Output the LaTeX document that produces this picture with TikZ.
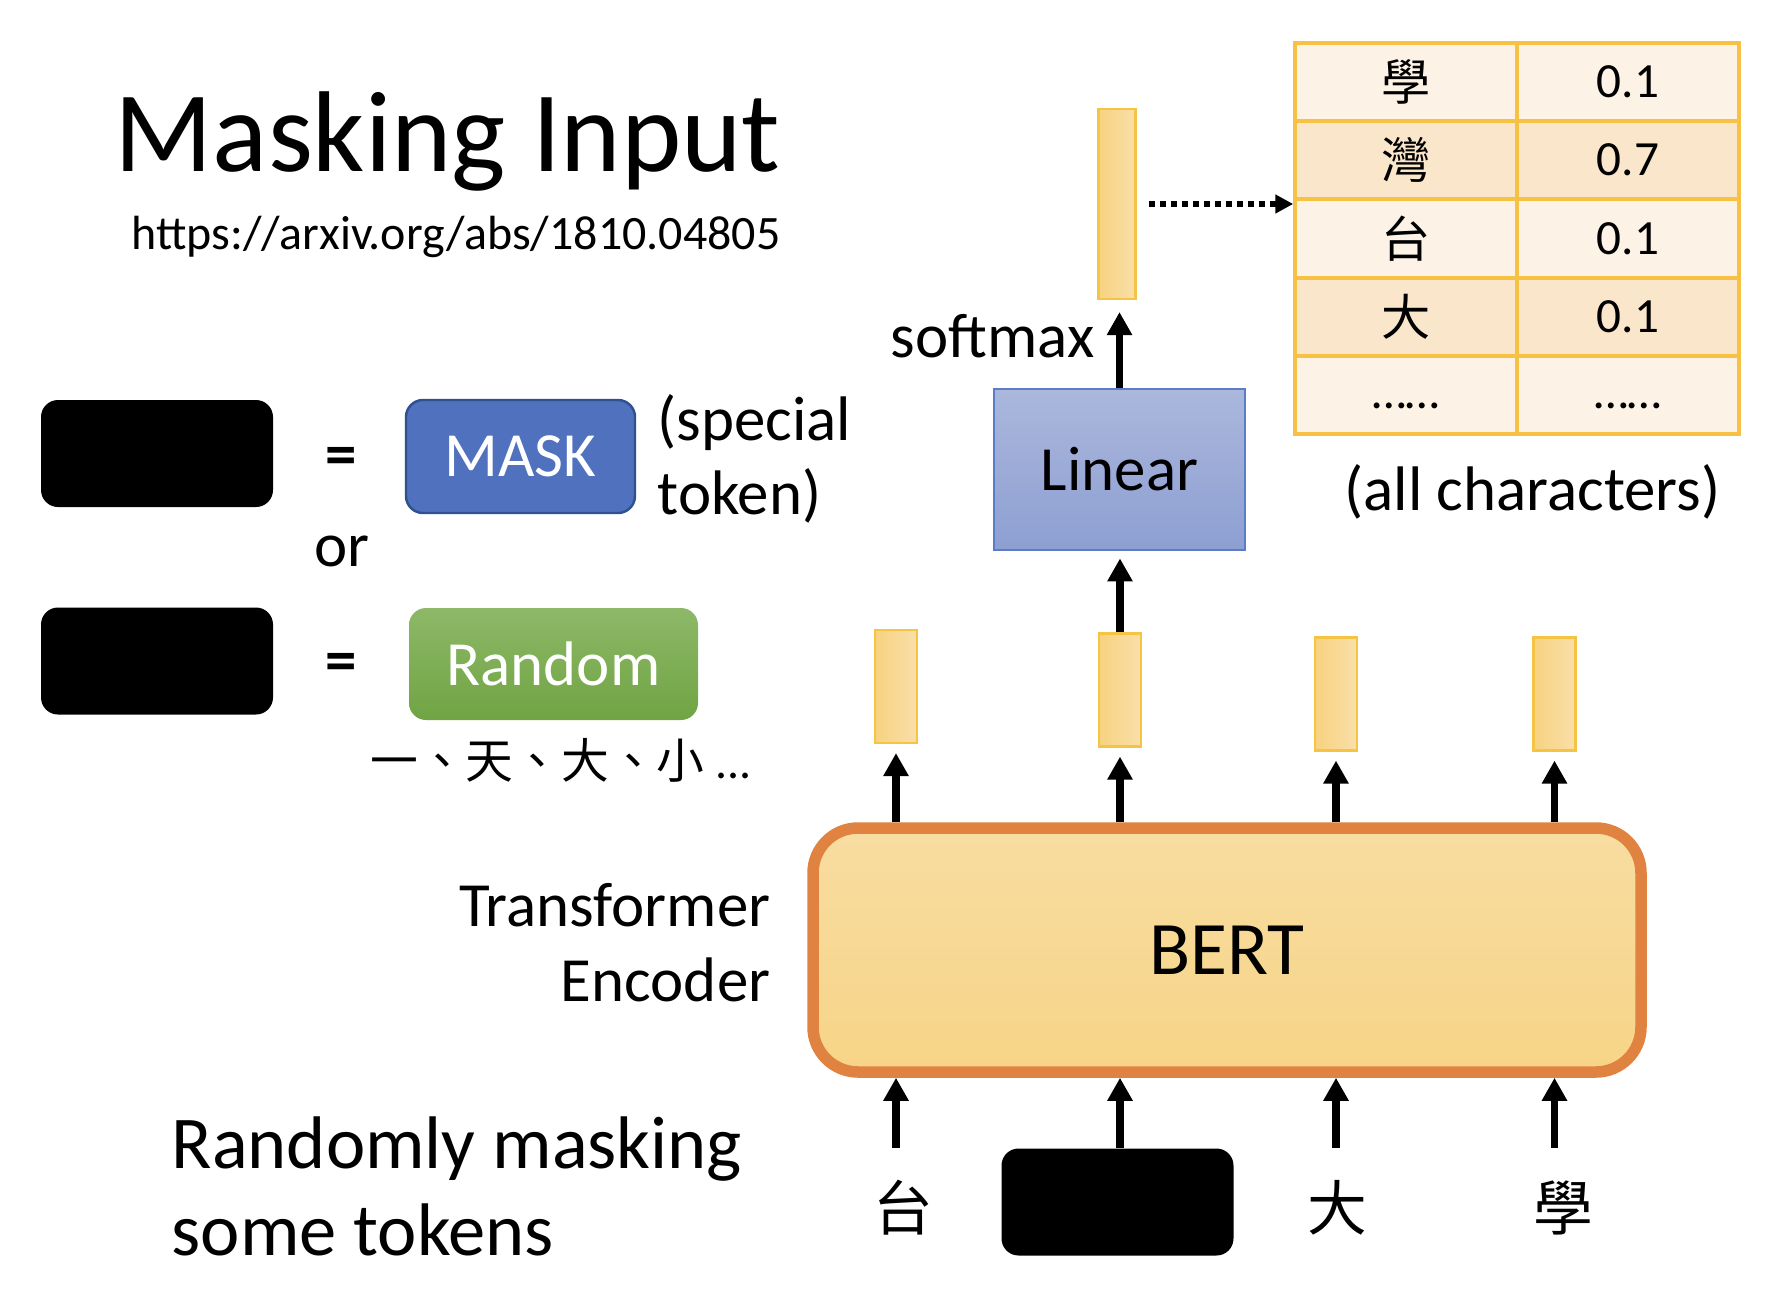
\documentclass[tikz,border=0pt]{standalone}
\usepackage{fontspec}
\setmainfont{Carlito}
\newfontfamily\cjk{Noto Sans CJK TC}
\usetikzlibrary{arrows.meta}
\newcommand{\fsz}[1]{\fontsize{#1pt}{#1pt}\selectfont}
\definecolor{maskblue}{HTML}{4F71BE}
\definecolor{maskedge}{HTML}{2F528F}
\definecolor{randtop}{HTML}{8EB868}
\definecolor{randbot}{HTML}{70A443}
\definecolor{lintop}{HTML}{ABB7DC}
\definecolor{linbot}{HTML}{8D9FD2}
\definecolor{linedge}{HTML}{5B7CC6}
\definecolor{berttop}{HTML}{F8DDA1}
\definecolor{bertbot}{HTML}{F7D487}
\definecolor{bertedge}{HTML}{E08341}
\definecolor{vecleft}{HTML}{F7D280}
\definecolor{vecright}{HTML}{F9DFA8}
\definecolor{vecedge}{HTML}{F6C445}
\definecolor{tabedge}{HTML}{F7C244}
\definecolor{rowlight}{HTML}{FCF3E6}
\definecolor{rowdark}{HTML}{FAE6CB}
\begin{document}
\begin{tikzpicture}[x=1cm,y=-1cm,
  blk/.style={fill=black,rounded corners=0.17cm,minimum width=2.32cm,minimum height=1.07cm,inner sep=0},
  vec/.style={draw=vecedge,line width=0.6pt,left color=vecleft,right color=vecright,minimum width=0.42cm,minimum height=1.13cm,inner sep=0},
  txt/.style={inner sep=0,font=\fsz{17.9}},
  cell/.style={inner sep=0,font=\fsz{14}},
  uparr/.style={line width=2.2pt,-{Triangle[length=0.23cm,width=0.24cm]}},
  dotarr/.style={line width=0.06cm,dash pattern=on 0.06cm off 0.05cm,-{Triangle[length=0.18cm,width=0.18cm]}}]
  \useasboundingbox (0,0) rectangle (17.92,13.16);
  % title
  \node[anchor=base west,inner sep=0,font=\fsz{32.7}] (title) at (1.14,1.71) {Masking Input};
  \node[anchor=base west,inner sep=0,font=\fsz{13.65}] (url) at (1.31,2.49) {https://arxiv.org/abs/1810.04805};
  % legend
  \node[blk] (b1) at (1.57,4.535) {};
  \node[blk] (b2) at (1.57,6.61) {};
  \node[txt,font=\fsz{17.9}\bfseries] (eq1) at (3.41,4.61) {=};
  \node[txt,font=\fsz{17.9}\bfseries] (eq2) at (3.41,6.67) {=};
  \node[txt,anchor=base] (or) at (3.42,5.66) {or};
  \node[draw=maskedge,line width=0.7pt,fill=maskblue,rounded corners=0.17cm,minimum width=2.29cm,minimum height=1.13cm,inner sep=0,text=white,font=\fsz{17.9}] (mask) at (5.205,4.565) {MASK};
  \node[txt,anchor=base west] (sp1) at (6.57,4.40) {(special};
  \node[txt,anchor=base west] (sp2) at (6.57,5.14) {token)};
  \node[top color=randtop,bottom color=randbot,rounded corners=0.17cm,minimum width=2.89cm,minimum height=1.12cm,inner sep=0,text=white,font=\fsz{17.9}] (rand) at (5.535,6.64) {Random};
  \node[anchor=base,inner sep=0,font=\fsz{13.6}] (cands) at (5.61,7.78) {{\cjk 一、天、大、小} ...};
  % output side
  \node[vec,minimum width=0.37cm,minimum height=1.90cm] (top) at (11.17,2.04) {};
  \node[draw=linedge,line width=0.8pt,top color=lintop,bottom color=linbot,minimum width=2.51cm,minimum height=1.61cm,inner sep=0,font=\fsz{17.9}] (lin) at (11.195,4.695) {Linear};
  \node[txt,anchor=base east] (sm) at (10.95,3.57) {softmax};
  \node[vec] (v1) at (8.96,6.865) {};
  \node[vec] (v2) at (11.20,6.90) {};
  \node[vec] (v3) at (13.36,6.94) {};
  \node[vec] (v4) at (15.545,6.94) {};
  \node[draw=bertedge,line width=0.115cm,top color=berttop,bottom color=bertbot,rounded corners=0.45cm,minimum width=8.28cm,minimum height=2.44cm,inner sep=0,font=\fsz{21.5}] (bert) at (12.27,9.50) {BERT};
  \node[txt,anchor=base east] (tr1) at (7.71,9.26) {Transformer};
  \node[txt,anchor=base east] (tr2) at (7.71,10.01) {Encoder};
  % inputs
  \node[inner sep=0,font=\cjk\fsz{17}] (in1) at (9.03,12.08) {台};
  \node[blk] (in2) at (11.175,12.02) {};
  \node[inner sep=0,font=\cjk\fsz{17}] (in3) at (13.37,12.08) {大};
  \node[inner sep=0,font=\cjk\fsz{17}] (in4) at (15.63,12.08) {學};
  \node[anchor=base west,inner sep=0,font=\fsz{21.2}] (rm1) at (1.71,11.68) {Randomly masking};
  \node[anchor=base west,inner sep=0,font=\fsz{21.2}] (rm2) at (1.71,12.55) {some tokens};
  % table
  \fill[rowlight] (12.95,0.43) rectangle (17.39,1.21);
  \fill[rowdark] (12.95,1.21) rectangle (17.39,1.99);
  \fill[rowlight] (12.95,1.99) rectangle (17.39,2.78);
  \fill[rowdark] (12.95,2.78) rectangle (17.39,3.56);
  \fill[rowlight] (12.95,3.56) rectangle (17.39,4.34);
  \draw[tabedge,line width=1pt] (12.95,1.21) -- (17.39,1.21) (12.95,1.99) -- (17.39,1.99)
    (12.95,2.78) -- (17.39,2.78) (12.95,3.56) -- (17.39,3.56) (15.17,0.43) -- (15.17,4.34);
  \node[draw=tabedge,line width=1pt,minimum width=4.44cm,minimum height=3.91cm,inner sep=0] (tab) at (15.17,2.385) {};
  \node[cell,font=\cjk\fsz{14}] (k1) at (14.06,0.82) {學};
  \node[cell] (p1) at (16.28,0.82) {0.1};
  \node[cell,font=\cjk\fsz{14}] (k2) at (14.06,1.60) {灣};
  \node[cell] (p2) at (16.28,1.60) {0.7};
  \node[cell,font=\cjk\fsz{14}] (k3) at (14.06,2.39) {台};
  \node[cell] (p3) at (16.28,2.39) {0.1};
  \node[cell,font=\cjk\fsz{14}] (k4) at (14.06,3.17) {大};
  \node[cell] (p4) at (16.28,3.17) {0.1};
  \node[cell,anchor=base] (k5) at (14.06,4.08) {……};
  \node[cell,anchor=base] (p5) at (16.28,4.08) {……};
  \node[txt,anchor=base west] (allc) at (13.44,5.10) {(all characters)};
  % connectors
  \draw[uparr] (v1 |- in2.north) -- (v1 |- bert.south);
  \draw[uparr] (v2 |- in2.north) -- (v2 |- bert.south);
  \draw[uparr] (v3 |- in2.north) -- (v3 |- bert.south);
  \draw[uparr] (v4 |- in2.north) -- (v4 |- bert.south);
  \draw[uparr] (v1 |- bert.north) -- ([yshift=-0.09cm]v1.south);
  \draw[uparr] (v2 |- bert.north) -- ([yshift=-0.09cm]v2.south);
  \draw[uparr] (v3 |- bert.north) -- ([yshift=-0.09cm]v3.south);
  \draw[uparr] (v4 |- bert.north) -- ([yshift=-0.09cm]v4.south);
  \draw[uparr] (v2.north) -- ([yshift=-0.07cm]v2.north |- lin.south);
  \draw[uparr] (lin.north) -- ([yshift=-0.12cm]lin.north |- top.south);
  \draw[dotarr] ([xshift=0.12cm]top.east) -- (top.east -| tab.west);
\end{tikzpicture}
\end{document}
